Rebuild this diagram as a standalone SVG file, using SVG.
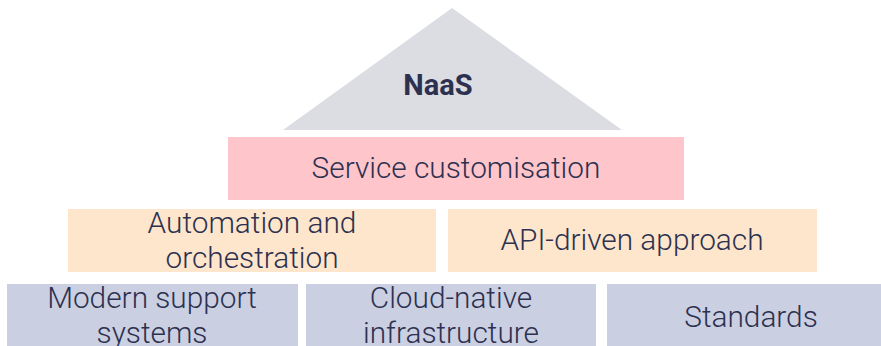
<svg xmlns="http://www.w3.org/2000/svg" width="881" height="346" viewBox="0 0 881 346">
<style>
text{font-family:Roboto,"Liberation Sans",sans-serif;fill:#2d3150;text-anchor:middle;font-weight:300;font-size:29.8px}
.b{font-weight:700;font-size:29px}
.pink{fill:#fec5cb}.org{fill:#fde6cb}.blu{fill:#cbcfe2}
</style>
<rect width="881" height="346" fill="#ffffff"/>
<g id="naas"><polygon points="452,8 622,130 283,130" fill="#dcdde3"/><text class="b" x="438" y="95">NaaS</text></g>
<g id="service"><rect class="pink" x="228" y="137" width="456" height="63"/><text x="456" y="178">Service customisation</text></g>
<g id="automation"><rect class="org" x="68" y="209" width="368" height="63"/><text x="252" y="233">Automation and</text><text x="252" y="268">orchestration</text></g>
<g id="api"><rect class="org" x="448" y="209" width="369" height="63"/><text x="632" y="250">API-driven approach</text></g>
<g id="modern"><rect class="blu" x="7" y="284" width="291" height="62"/><text x="152" y="308">Modern support</text><text x="152" y="343">systems</text></g>
<g id="cloud"><rect class="blu" x="306" y="284" width="290" height="62"/><text x="451" y="308">Cloud-native</text><text x="451" y="343">infrastructure</text></g>
<g id="standards"><rect class="blu" x="607" y="284" width="274" height="62"/><text x="751" y="327">Standards</text></g>
<g id="connectors"/>
</svg>
